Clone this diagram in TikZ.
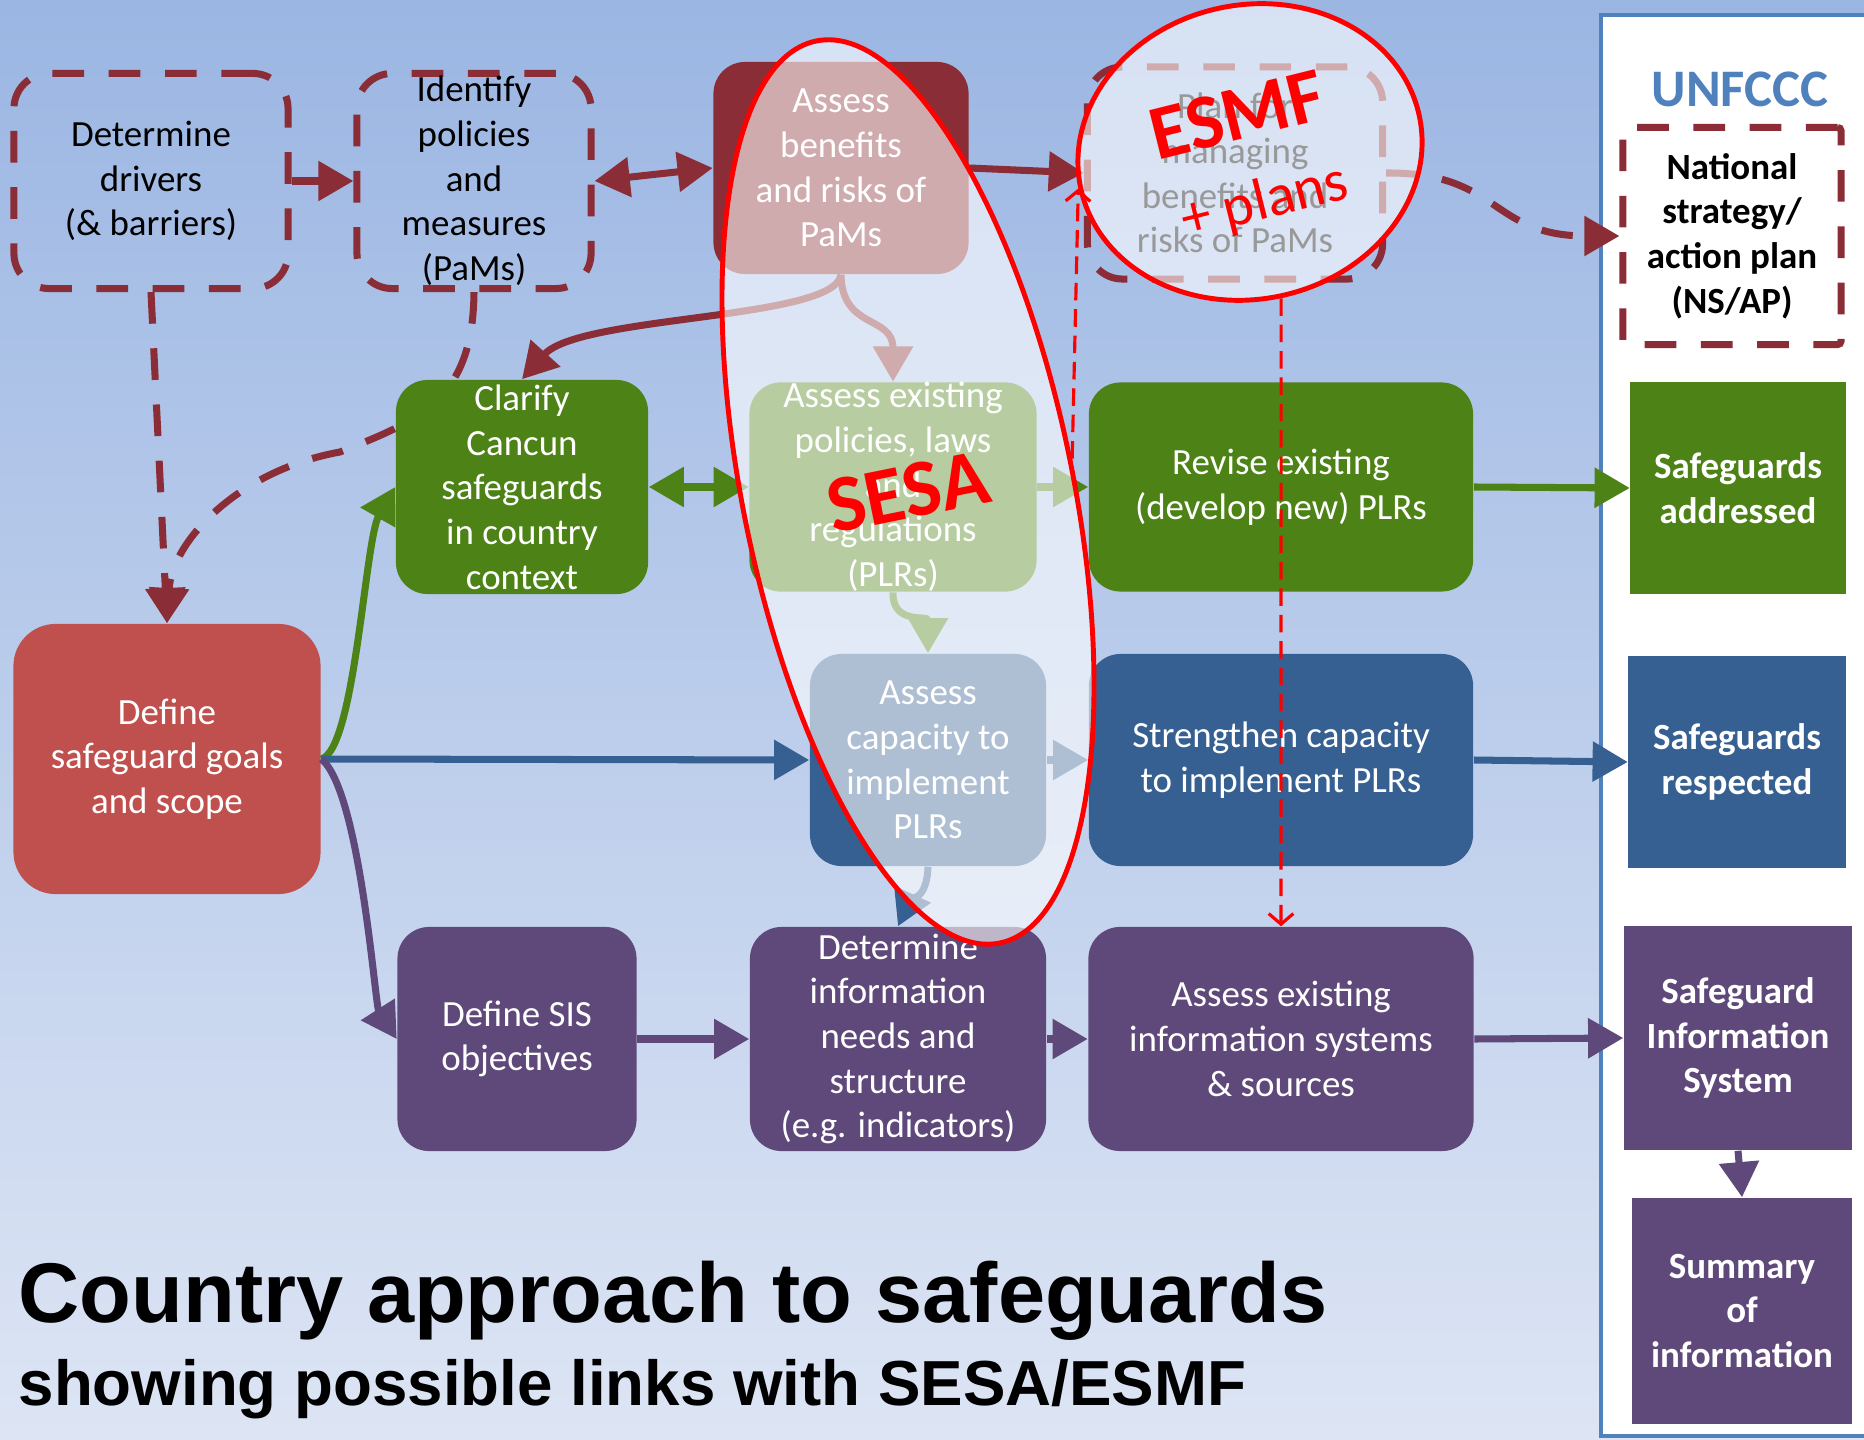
\documentclass[tikz,border=0pt]{standalone}
\usepackage{fontspec}
\setmainfont{Carlito}
\newfontfamily\headfont{Liberation Sans}
\usetikzlibrary{arrows.meta,shapes.geometric}

\definecolor{bgtop}{RGB}{155,182,227}
\definecolor{bgbot}{RGB}{221,229,244}
\definecolor{dred}{RGB}{139,45,54}
\definecolor{goalred}{RGB}{192,80,77}
\definecolor{sgreen}{RGB}{77,130,22}
\definecolor{sblue}{RGB}{55,96,146}
\definecolor{spurple}{RGB}{95,73,122}
\definecolor{unblue}{RGB}{79,129,189}

\begin{document}
\begin{tikzpicture}[x=0.01cm,y=0.01cm]
    % Node styles
    \tikzstyle{txt} = [font=\fontsize{10.5}{12.7}\selectfont, align=center, inner sep=0pt]
    \tikzstyle{dashbox} = [txt, rectangle, rounded corners=10pt, draw=dred, line width=2pt, dash pattern=on 9pt off 7pt, text=black]
    \tikzstyle{fillbox} = [txt, rectangle, rounded corners=9pt, text=white]
    \tikzstyle{outbox} = [txt, rectangle, text=white, font=\fontsize{10.5}{12.7}\selectfont\bfseries]
    \tikzstyle{lens} = [ellipse, draw=red, line width=1.4pt, fill=white, fill opacity=0.6, draw opacity=1, text opacity=1]
    \tikzstyle{arrow} = [line width=2pt, -{Triangle[length=10pt,width=11pt]}]
    \tikzstyle{darrow} = [line width=2pt, {Triangle[length=10pt,width=11pt]}-{Triangle[length=10pt,width=11pt]}]
    \tikzstyle{dasharrow} = [arrow, dash pattern=on 9pt off 7pt]
    \tikzstyle{redline} = [red, line width=0.9pt, dash pattern=on 5pt off 2.5pt, -{Straight Barb[length=3pt,width=7pt]}]

    % Background and UNFCCC panel
    \useasboundingbox (0,0) rectangle (1864,-1440);
    \shade[top color=bgtop, bottom color=bgbot] (0,0) rectangle (1864,-1440);
    \draw[unblue, line width=1.3pt, fill=white] (1601,-15) rectangle (1900,-1436);

    % Nodes (top left first, the dashed links run behind Clarify)
    \node (drivers) at (151,-181) [dashbox, minimum width=2.74cm, minimum height=2.15cm] {Determine\\drivers\\(\& barriers)};
    \node (pams) at (474,-181) [dashbox, minimum width=2.34cm, minimum height=2.15cm] {Identify\\policies\\and\\measures\\(PaMs)};
    \node (goals) at (167,-759) [fillbox, fill=goalred, rounded corners=12pt, minimum width=3.07cm, minimum height=2.7cm] {Define\\safeguard goals\\and scope};

    \draw[dasharrow, dred] (drivers.south) -- (goals.north);
    \draw[dasharrow, dred] (pams.south) .. controls (473,-400) and (420,-420) .. (340,-452)
        .. controls (240,-470) and (172,-540) .. (goals.north);

    \node (benefits) at (841,-168) [fillbox, fill=dred, minimum width=2.55cm, minimum height=2.12cm] {Assess\\benefits\\and risks of\\PaMs};
    \node (plan) at (1235,-173) [dashbox, minimum width=2.95cm, minimum height=2.12cm] {Plan for\\managing\\benefits and\\risks of PaMs};
    \node (unfccc) at (1740,-89) [font=\fontsize{15}{18}\selectfont\bfseries, text=unblue] {UNFCCC};
    \node (nsap) at (1732,-236) [dashbox, rounded corners=1pt, minimum width=2.18cm, minimum height=2.17cm, font=\fontsize{10.5}{12.7}\selectfont\bfseries] {National\\strategy/\\action plan\\(NS/AP)};

    \node (clarify) at (522,-487) [fillbox, fill=sgreen, minimum width=2.52cm, minimum height=2.14cm] {Clarify\\Cancun\\safeguards\\in country\\context};
    \node (existing) at (893,-487) [fillbox, fill=sgreen, minimum width=2.87cm, minimum height=2.09cm] {Assess existing\\policies, laws\\and\\regulations\\(PLRs)};
    \node (revise) at (1281,-487) [fillbox, fill=sgreen, minimum width=3.84cm, minimum height=2.09cm] {Revise existing\\(develop new) PLRs};
    \node (addressed) at (1738,-488) [outbox, fill=sgreen, minimum width=2.15cm, minimum height=2.11cm] {Safeguards\\addressed};

    \node (capacity) at (928,-760) [fillbox, fill=sblue, minimum width=2.36cm, minimum height=2.12cm] {Assess\\capacity to\\implement\\PLRs};
    \node (strengthen) at (1281,-760) [fillbox, fill=sblue, minimum width=3.84cm, minimum height=2.12cm] {Strengthen capacity\\to implement PLRs};
    \node (respected) at (1737,-762) [outbox, fill=sblue, minimum width=2.17cm, minimum height=2.12cm] {Safeguards\\respected};

    \node (sisobj) at (517,-1039) [fillbox, fill=spurple, minimum width=2.39cm, minimum height=2.24cm] {Define SIS\\objectives};
    \node (infoneeds) at (898,-1039) [fillbox, fill=spurple, minimum width=2.96cm, minimum height=2.24cm] {Determine\\information\\needs and\\structure\\(e.g. indicators)};
    \node (infosys) at (1281,-1039) [fillbox, fill=spurple, minimum width=3.85cm, minimum height=2.24cm] {Assess existing\\information systems\\\& sources};
    \node (sis) at (1738,-1038) [outbox, fill=spurple, minimum width=2.28cm, minimum height=2.24cm] {Safeguard\\Information\\System};
    \node (summary) at (1742,-1311) [outbox, fill=spurple, minimum width=2.2cm, minimum height=2.26cm] {Summary\\of\\information};

    % Title
    \node (title) at (18,-1322) [anchor=base west, inner sep=0pt, font=\headfont\bfseries\fontsize{24.1}{29}\selectfont] {Country approach to safeguards};
    \node (subtitle) at (18,-1405) [anchor=base west, inner sep=0pt, font=\headfont\bfseries\fontsize{18.1}{22}\selectfont] {showing possible links with SESA/ESMF};

    % Arrows
    \draw[dasharrow, dred] (drivers.east) -- (pams.west);
    \draw[darrow, dred] (pams.east) -- (benefits.west);
    \draw[arrow, dred] (benefits.east) -- (plan.west);
    \draw[dasharrow, dred] (plan.east) .. controls (1500,-172) and (1490,-236) .. (nsap.west);
    \draw[arrow, dred] (benefits.south) .. controls (835,-320) and (580,-315) .. (clarify.north);
    \draw[arrow, dred] (benefits.south) .. controls (842,-330) and (893,-315) .. (existing.north);

    \draw[darrow, sgreen] (clarify.east) -- (existing.west);
    \draw[arrow, sgreen] (existing.east) -- (revise.west);
    \draw[arrow, sgreen] (revise.east) -- (addressed.west);
    \draw[arrow, sgreen] (goals.east) .. controls (355,-750) and (365,-540) .. (clarify.west);
    \draw[arrow, sgreen] (existing.south) .. controls (892,-625) and (928,-615) .. (capacity.north);

    \draw[arrow, sblue] (goals.east) -- (capacity.west);
    \draw[arrow, sblue] (capacity.east) -- (strengthen.west);
    \draw[arrow, sblue] (strengthen.east) -- (respected.west);
    \draw[arrow, sblue] (capacity.south) .. controls (927,-900) and (910,-900) .. (infoneeds.north);

    \draw[arrow, spurple] (goals.east) .. controls (360,-790) and (375,-1005) .. (sisobj.west);
    \draw[arrow, spurple] (sisobj.east) -- (infoneeds.west);
    \draw[arrow, spurple] (infoneeds.east) -- (infosys.west);
    \draw[arrow, spurple] (infosys.east) -- (sis.west);
    \draw[arrow, spurple] (sis.south) -- (summary.north);

    % SESA and ESMF overlays
    \node (sesa) at (908,-492) [lens, rotate=11.5, minimum width=3.3cm, minimum height=9.2cm, text=red, font=\bfseries\fontsize{23}{27}\selectfont] {SESA};
    \node (esmf) at (1250,-152) [lens, rotate=12, minimum width=3.46cm, minimum height=2.94cm] {};
    \node (esmflabel) at (1237,-115) [rotate=14, text=red, inner sep=0pt, font=\bfseries\fontsize{22}{26}\selectfont] {ESMF};
    \node (plans) at (1265,-203) [rotate=14, text=red, inner sep=0pt, font=\fontsize{16.8}{20}\selectfont] {+ plans};

    \draw[redline] (sesa.east) -- (esmf.west);
    \draw[redline] (esmf.south) -- (infosys.north);

\end{tikzpicture}
\end{document}
